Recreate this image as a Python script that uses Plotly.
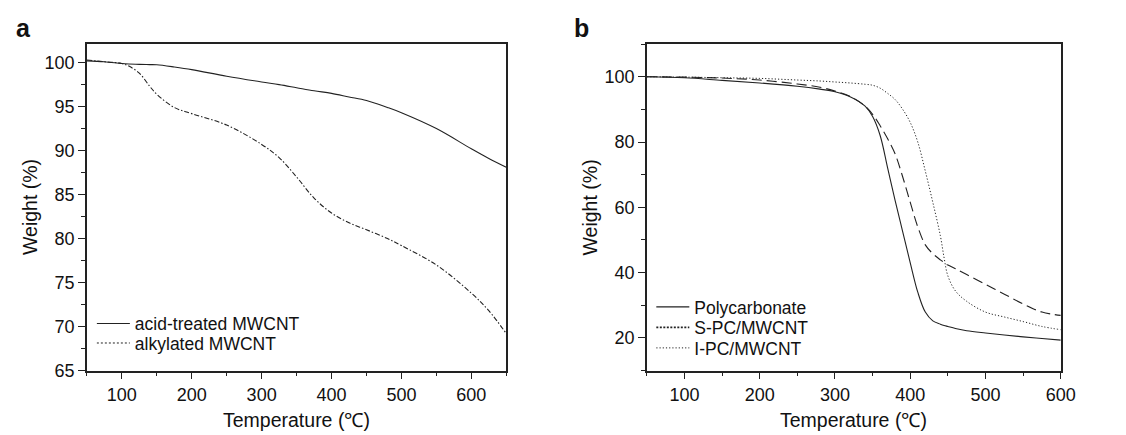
import plotly.graph_objects as go

# panel a: TGA of MWCNT
temp_a = [50, 75, 100, 110, 125, 140, 150, 175, 200, 250, 300, 325, 350, 375, 400,
          425, 450, 480, 500, 550, 600, 625, 650]
acid_treated = [100.2, 100.1, 99.9, 99.85, 99.8, 99.77, 99.75, 99.5, 99.2, 98.45, 97.8,
                97.5, 97.15, 96.8, 96.5, 96.1, 95.7, 94.9, 94.3, 92.5, 90.2, 89.1, 88.1]
alkylated = [100.3, 100.1, 99.9, 99.6, 98.8, 97.3, 96.4, 94.9, 94.2, 92.9, 90.7,
             89.2, 87.0, 84.6, 82.9, 81.8, 81.0, 80.0, 79.2, 77.0, 73.8, 71.8, 69.2]

# panel b: TGA of PC composites
temp_b = [50, 100, 150, 200, 250, 280, 300, 320, 340, 350, 360, 370, 380, 390, 400,
          410, 420, 430, 440, 445, 450, 460, 475, 500, 525, 550, 575, 600]
polycarbonate = [100, 99.7, 98.9, 98.1, 97.1, 96.2, 95.4, 93.9, 91.0, 87.8, 82.0, 72.0,
                 62.0, 52.5, 43.0, 34.0, 27.9, 25.2, 24.2, 23.8, 23.5, 22.9, 22.2, 21.5,
                 20.9, 20.3, 19.8, 19.3]
s_pc = [100, 99.9, 99.6, 99.0, 97.8, 96.8, 95.6, 94.0, 91.0, 88.5, 85.0, 81.0,
        76.3, 69.3, 61.5, 54.0, 48.5, 45.8, 43.9, 43.1, 42.3, 41.2, 39.4, 36.4,
        33.4, 30.4, 27.9, 26.9]
i_pc = [100, 99.9, 99.7, 99.5, 99.0, 98.7, 98.4, 98.1, 97.7, 97.4, 96.5, 94.9,
        93.0, 90.0, 86.0, 80.0, 71.1, 61.5, 51.3, 44.5, 39.0, 34.4, 31.2, 27.9,
        26.4, 25.0, 23.5, 22.5]

ink = "#222222"
font = "Liberation Sans, Arial, sans-serif"

fig = go.Figure()

# panel a
fig.add_trace(go.Scatter(x=temp_a, y=acid_treated, mode="lines", line=dict(color=ink, width=1.1),
                         line_shape="spline", name="acid-treated MWCNT", legend="legend"))
fig.add_trace(go.Scatter(x=temp_a, y=alkylated, mode="lines",
                         line=dict(color=ink, width=1.1, dash="5px,2px,1.5px,2px"),
                         line_shape="spline", showlegend=False))
fig.add_trace(go.Scatter(x=[None], y=[None], mode="lines", line=dict(color=ink, width=1.0, dash="2px,2px"),
                         name="alkylated MWCNT", legend="legend2"))

# panel b
fig.add_trace(go.Scatter(x=temp_b, y=polycarbonate, mode="lines", line=dict(color=ink, width=1.1),
                         line_shape="spline", name="Polycarbonate", xaxis="x2", yaxis="y2", legend="legend3"))
fig.add_trace(go.Scatter(x=temp_b, y=s_pc, mode="lines", line=dict(color=ink, width=1.1, dash="10px,5px"),
                         line_shape="spline", showlegend=False, xaxis="x2", yaxis="y2"))
fig.add_trace(go.Scatter(x=[None], y=[None], mode="lines", line=dict(color=ink, width=1.6, dash="2px,1.5px"),
                         name="S-PC/MWCNT", xaxis="x2", yaxis="y2", legend="legend4"))
fig.add_trace(go.Scatter(x=temp_b, y=i_pc, mode="lines", line=dict(color=ink, width=1.0, dash="1.2px,2px"),
                         line_shape="spline", name="I-PC/MWCNT", xaxis="x2", yaxis="y2", legend="legend5"))

axis_style = dict(
    showline=True, linecolor=ink, linewidth=1.5, mirror=True, showgrid=False, zeroline=False,
    ticks="outside", ticklen=7, tickwidth=1.2, tickcolor=ink,
    tickfont=dict(family=font, size=18, color="#111"),
)


def legend_box(x_px, y_px):
    return dict(x=x_px / 1126, y=1 - y_px / 435, xanchor="left", yanchor="middle",
                bgcolor="rgba(0,0,0,0)", font=dict(family=font, size=17.5, color="#111"),
                itemwidth=33)


fig.update_layout(
    width=1126, height=435, margin=dict(l=0, r=0, t=0, b=0),
    paper_bgcolor="white", plot_bgcolor="white",
    font=dict(family=font, color="#111"),
    xaxis=dict(domain=[0.071, 0.4485], range=[50, 650], tickvals=[100, 200, 300, 400, 500, 600],
               minor=dict(dtick=50, tick0=0, ticks="outside", ticklen=4, tickcolor=ink), anchor="y", **axis_style),
    yaxis=dict(domain=[0.147, 0.915], range=[65, 102.1], dtick=5, tick0=65,
               minor=dict(dtick=2.5, tick0=65, ticks="outside", ticklen=4, tickcolor=ink), anchor="x", **axis_style),
    xaxis2=dict(domain=[0.575, 0.9476], range=[50, 600], tickvals=[100, 200, 300, 400, 500, 600],
                minor=dict(dtick=50, tick0=0, ticks="outside", ticklen=4, tickcolor=ink), anchor="y2", **axis_style),
    yaxis2=dict(domain=[0.147, 0.915], range=[10, 110], tickvals=[20, 40, 60, 80, 100],
                minor=dict(dtick=10, tick0=0, ticks="outside", ticklen=4, tickcolor=ink), anchor="x2", **axis_style),
    legend=legend_box(85, 323),
    legend2=legend_box(85, 343),
    legend3=legend_box(652, 306),
    legend4=legend_box(652, 327),
    legend5=legend_box(652, 348),
)

annotations = [
    dict(text="<b>a</b>", x=6, y=20, size=25),
    dict(text="<b>b</b>", x=572, y=20, size=25),
    dict(text="Weight (%)", x=23, y=204, size=19.5, angle=-90),
    dict(text="Weight (%)", x=590, y=204, size=19.5, angle=-90),
    dict(text="Temperature (℃)", x=292, y=422, size=19.5),
    dict(text="Temperature (℃)", x=857, y=422, size=19.5),
]
for a in annotations:
    fig.add_annotation(
        text=a["text"], x=a["x"] / 1126, y=1 - a["y"] / 435, xref="paper", yref="paper",
        xanchor="left" if a["text"].startswith("<b>") else "center", yanchor="middle",
        textangle=a.get("angle", 0), showarrow=False,
        font=dict(family=font, size=a["size"], color="#111"),
    )

fig.write_html("out.html")
